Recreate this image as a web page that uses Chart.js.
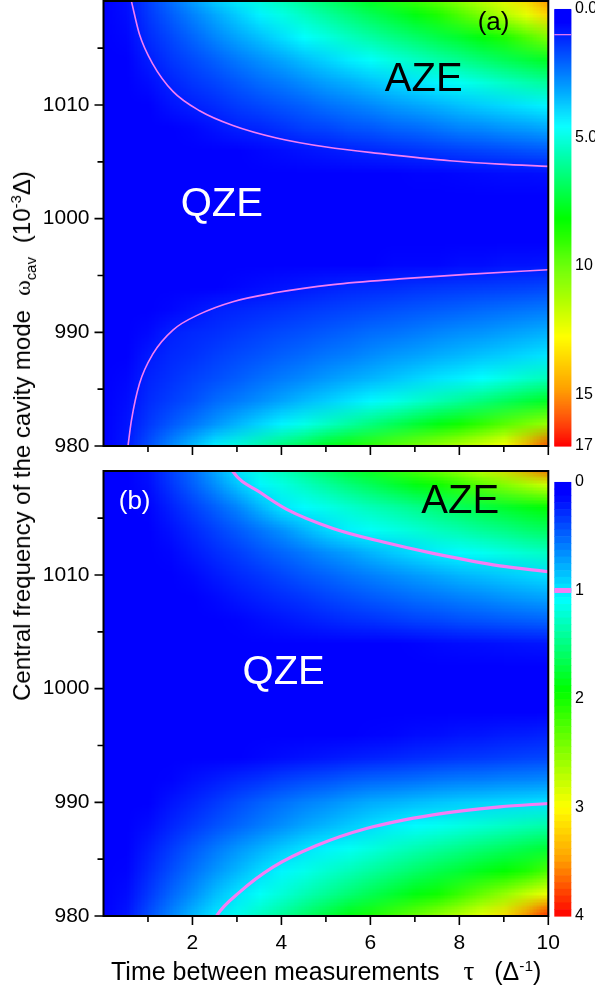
<!DOCTYPE html>
<html lang="en">
<head>
<meta charset="UTF-8">
<title>QZE / AZE maps</title>
<script src="https://cdn.jsdelivr.net/npm/chart.js@4.4.1/dist/chart.umd.min.js"></script>
<style>
  body { margin: 0; background: #fff; font-family: "Liberation Sans", Arial, sans-serif; }
  #wrap { position: relative; width: 595px; height: 988px; overflow: hidden; }
  canvas { position: absolute; left: 0; }
  #chartA { top: 0; }
  #chartB { top: 466px; }
  .title { position: absolute; white-space: nowrap; color: #000; line-height: 24px; }
  .gr { font-family: "Liberation Serif", serif; }
  sup, sub { font-size: 62%; line-height: 0; }
  #xtitle { left: 111px; top: 959px; font-size: 25px; }
  #ytitle { left: 22px; top: 436px; font-size: 24px; transform: translate(-50%, -50%) rotate(-90deg); }
</style>
</head>
<body>
<div id="wrap">
  <canvas id="chartA" width="595" height="466"></canvas>
  <canvas id="chartB" width="595" height="522"></canvas>
  <div class="title" id="xtitle">Time between measurements<span class="gr" style="margin-left:24px;font-size:27px">τ</span><span style="margin-left:20px">(Δ<sup>-1</sup>)</span></div>
  <div class="title" id="ytitle">Central frequency of the cavity mode<span class="gr" style="margin-left:14px">ω</span><sub>cav</sub><span style="margin-left:14px">(10<sup>-3</sup>Δ)</span></div>
</div>
<script>
// grid nodes of the two maps
const tauNodes = [0, 0.5, 1, 1.5, 2, 2.5, 3, 3.5, 4, 4.5, 5, 5.5, 6, 6.5, 7, 7.5, 8, 8.5, 9, 9.5, 10];
const omegaNodes = [980, 982, 984, 986, 988, 990, 992, 994, 996, 998, 1000, 1002, 1004, 1006, 1008, 1010, 1012, 1014, 1016, 1018, 1020];

// panel (a), one row per omega node (bottom to top)
const heatA = [
  [0, 0.9, 1.8, 2.7, 3.55, 4.4, 5.1, 5.8, 6.5, 7.1, 7.8, 8.45, 9.05, 9.7, 10.3, 10.9, 11.5, 12.1, 12.75, 14.45, 16.0],
  [0, 0.8, 1.4, 1.9, 2.4, 2.9, 3.4, 3.9, 4.4, 4.9, 5.4, 5.9, 6.4, 6.9, 7.4, 7.9, 8.45, 9.05, 9.7, 10.3, 10.9],
  [0, 0.7, 1.2, 1.5, 1.8, 2.2, 2.5, 2.8, 3.15, 3.5, 3.8, 4.15, 4.5, 4.85, 5.25, 5.65, 6.05, 6.45, 6.9, 7.3, 7.7],
  [0, 0.6, 1.05, 1.3, 1.55, 1.75, 2.0, 2.25, 2.5, 2.7, 2.95, 3.2, 3.4, 3.65, 3.9, 4.15, 4.35, 4.6, 4.95, 5.3, 5.6],
  [0, 0.45, 0.9, 1.15, 1.3, 1.5, 1.7, 1.85, 2.05, 2.2, 2.4, 2.55, 2.75, 2.95, 3.1, 3.3, 3.45, 3.65, 3.8, 4.0, 4.2],
  [0, 0.3, 0.65, 1.0, 1.15, 1.25, 1.4, 1.55, 1.7, 1.8, 1.95, 2.1, 2.25, 2.35, 2.5, 2.65, 2.8, 2.9, 3.05, 3.2, 3.35],
  [0, 0.2, 0.4, 0.6, 0.8, 1.0, 1.1, 1.2, 1.3, 1.4, 1.5, 1.6, 1.7, 1.8, 1.9, 2.0, 2.1, 2.2, 2.3, 2.4, 2.5],
  [0, 0.1, 0.2, 0.3, 0.4, 0.5, 0.6, 0.7, 0.8, 0.9, 1.0, 1.1, 1.15, 1.2, 1.3, 1.35, 1.4, 1.45, 1.5, 1.55, 1.65],
  [0, 0.05, 0.1, 0.1, 0.2, 0.2, 0.3, 0.3, 0.3, 0.4, 0.4, 0.5, 0.5, 0.6, 0.6, 0.6, 0.7, 0.7, 0.8, 0.8, 0.85],
  [0, 0, 0.05, 0.1, 0.1, 0.1, 0.15, 0.15, 0.2, 0.2, 0.2, 0.25, 0.25, 0.3, 0.3, 0.3, 0.35, 0.35, 0.4, 0.4, 0.45],
  [0, 0, 0, 0.05, 0.05, 0.05, 0.1, 0.1, 0.1, 0.1, 0.15, 0.15, 0.15, 0.15, 0.2, 0.2, 0.2, 0.2, 0.25, 0.25, 0.25],
  [0, 0, 0.05, 0.1, 0.1, 0.1, 0.1, 0.1, 0.2, 0.2, 0.2, 0.2, 0.2, 0.3, 0.3, 0.3, 0.3, 0.3, 0.4, 0.4, 0.4],
  [0, 0.05, 0.1, 0.1, 0.15, 0.2, 0.2, 0.25, 0.3, 0.35, 0.4, 0.4, 0.45, 0.5, 0.55, 0.55, 0.6, 0.65, 0.7, 0.7, 0.75],
  [0, 0.1, 0.2, 0.3, 0.4, 0.4, 0.5, 0.6, 0.7, 0.8, 0.9, 1.0, 1.1, 1.2, 1.3, 1.4, 1.5, 1.6, 1.7, 1.8, 1.9],
  [0, 0.2, 0.3, 0.5, 0.6, 0.8, 1.0, 1.1, 1.3, 1.5, 1.6, 1.8, 1.9, 2.1, 2.2, 2.4, 2.6, 2.7, 2.9, 3.0, 3.2],
  [0, 0.3, 0.5, 0.8, 1.0, 1.2, 1.45, 1.65, 1.85, 2.05, 2.3, 2.5, 2.7, 2.95, 3.15, 3.35, 3.6, 3.8, 4.0, 4.2, 4.45],
  [0, 0.35, 0.7, 1.05, 1.35, 1.6, 1.9, 2.2, 2.45, 2.75, 3.05, 3.3, 3.6, 3.9, 4.15, 4.45, 4.75, 5.05, 5.4, 5.7, 6.0],
  [0, 0.45, 0.95, 1.35, 1.7, 2.05, 2.45, 2.8, 3.15, 3.55, 3.9, 4.3, 4.65, 5.05, 5.4, 5.8, 6.15, 6.55, 6.95, 7.3, 7.7],
  [0, 0.6, 1.2, 1.65, 2.15, 2.65, 3.15, 3.6, 4.1, 4.6, 5.0, 5.45, 5.85, 6.3, 6.7, 7.15, 7.55, 8.0, 8.65, 9.55, 10.5],
  [0, 0.7, 1.4, 2.0, 2.6, 3.2, 3.8, 4.4, 4.95, 5.45, 5.95, 6.45, 6.95, 7.45, 7.95, 8.65, 9.55, 10.45, 11.4, 12.3, 13.7],
  [0, 0.8, 1.6, 2.45, 3.3, 4.1, 4.7, 5.3, 5.9, 6.45, 7.05, 7.6, 8.2, 9.0, 9.75, 10.55, 11.35, 12.1, 12.95, 14.0, 15.5]
];

// panel (b), same nodes
const heatB = [
  [0, 0.2, 0.42, 0.62, 0.82, 0.99, 1.14, 1.29, 1.43, 1.58, 1.73, 1.88, 2.03, 2.21, 2.38, 2.56, 2.73, 2.91, 3.17, 3.54, 3.9],
  [0, 0.16, 0.33, 0.5, 0.66, 0.83, 0.98, 1.1, 1.21, 1.32, 1.43, 1.54, 1.65, 1.76, 1.87, 1.98, 2.16, 2.35, 2.54, 2.74, 2.93],
  [0, 0.13, 0.27, 0.41, 0.55, 0.68, 0.81, 0.94, 1.05, 1.14, 1.23, 1.31, 1.4, 1.49, 1.58, 1.67, 1.75, 1.84, 1.93, 2.04, 2.24],
  [0, 0.11, 0.22, 0.34, 0.46, 0.57, 0.68, 0.78, 0.88, 0.97, 1.04, 1.11, 1.18, 1.26, 1.33, 1.4, 1.47, 1.54, 1.61, 1.68, 1.75],
  [0, 0.08, 0.16, 0.25, 0.34, 0.42, 0.5, 0.58, 0.66, 0.74, 0.81, 0.88, 0.95, 1.02, 1.07, 1.12, 1.17, 1.22, 1.27, 1.32, 1.37],
  [0, 0.06, 0.12, 0.19, 0.26, 0.33, 0.41, 0.48, 0.55, 0.61, 0.66, 0.72, 0.77, 0.8, 0.84, 0.87, 0.9, 0.92, 0.94, 0.96, 0.98],
  [0, 0.04, 0.08, 0.13, 0.18, 0.22, 0.27, 0.31, 0.36, 0.4, 0.43, 0.47, 0.5, 0.52, 0.54, 0.57, 0.59, 0.6, 0.62, 0.63, 0.65],
  [0, 0.02, 0.04, 0.06, 0.08, 0.1, 0.12, 0.14, 0.16, 0.18, 0.2, 0.22, 0.24, 0.26, 0.28, 0.3, 0.32, 0.33, 0.35, 0.37, 0.38],
  [0, 0.01, 0.02, 0.03, 0.04, 0.05, 0.06, 0.07, 0.08, 0.09, 0.1, 0.12, 0.13, 0.14, 0.16, 0.17, 0.19, 0.2, 0.22, 0.23, 0.25],
  [0, 0, 0.01, 0.01, 0.02, 0.02, 0.03, 0.03, 0.04, 0.04, 0.05, 0.05, 0.06, 0.07, 0.07, 0.08, 0.09, 0.1, 0.1, 0.11, 0.12],
  [0, 0, 0, 0, 0, 0.01, 0.01, 0.01, 0.01, 0.02, 0.02, 0.02, 0.02, 0.03, 0.03, 0.03, 0.03, 0.04, 0.04, 0.04, 0.05],
  [0, 0, 0, 0.01, 0.01, 0.02, 0.02, 0.03, 0.03, 0.04, 0.04, 0.05, 0.05, 0.06, 0.06, 0.07, 0.07, 0.08, 0.08, 0.09, 0.1],
  [0, 0, 0.01, 0.02, 0.03, 0.04, 0.05, 0.06, 0.07, 0.08, 0.09, 0.1, 0.11, 0.12, 0.13, 0.15, 0.16, 0.17, 0.18, 0.19, 0.2],
  [0, 0.01, 0.03, 0.05, 0.07, 0.1, 0.13, 0.16, 0.19, 0.22, 0.25, 0.28, 0.3, 0.33, 0.36, 0.38, 0.41, 0.43, 0.45, 0.47, 0.49],
  [0, 0.02, 0.04, 0.07, 0.11, 0.15, 0.2, 0.24, 0.28, 0.32, 0.37, 0.41, 0.45, 0.49, 0.53, 0.56, 0.6, 0.63, 0.67, 0.7, 0.73],
  [0, 0.02, 0.05, 0.1, 0.15, 0.21, 0.27, 0.32, 0.38, 0.44, 0.49, 0.55, 0.6, 0.65, 0.7, 0.75, 0.8, 0.84, 0.88, 0.92, 0.96],
  [0, 0.03, 0.07, 0.14, 0.21, 0.28, 0.35, 0.43, 0.5, 0.57, 0.65, 0.72, 0.8, 0.88, 0.95, 1.02, 1.07, 1.12, 1.18, 1.23, 1.28],
  [0, 0.04, 0.1, 0.18, 0.27, 0.36, 0.46, 0.56, 0.67, 0.8, 0.93, 1.03, 1.1, 1.16, 1.22, 1.29, 1.35, 1.42, 1.48, 1.55, 1.61],
  [0, 0.05, 0.13, 0.24, 0.36, 0.48, 0.62, 0.8, 0.99, 1.07, 1.15, 1.23, 1.31, 1.38, 1.46, 1.54, 1.62, 1.7, 1.78, 1.85, 1.93],
  [0, 0.07, 0.17, 0.32, 0.48, 0.66, 0.86, 1.05, 1.17, 1.28, 1.4, 1.52, 1.63, 1.75, 1.86, 1.98, 2.13, 2.3, 2.47, 2.63, 2.8],
  [0, 0.09, 0.2, 0.38, 0.56, 0.8, 1.06, 1.22, 1.38, 1.53, 1.69, 1.84, 2.0, 2.19, 2.38, 2.58, 2.77, 2.96, 3.26, 3.58, 3.9]
];

// QZE / AZE boundary (level 1), [tau, omega]
const contourA_upper = [[0.6, 1019.6], [0.63, 1019.1], [0.81, 1016.2], [1.11, 1013.6], [1.56, 1011.2], [2.16, 1009.5], [2.91, 1008.2], [3.89, 1007.1], [5.01, 1006.3], [6.29, 1005.7], [7.79, 1005.1], [8.91, 1004.8], [10, 1004.6]];
const contourA_lower = [[0.53, 979.4], [0.55, 980], [0.63, 982.3], [0.81, 985.5], [1.11, 988.1], [1.56, 990.2], [2.16, 991.6], [2.91, 992.7], [3.89, 993.5], [5.16, 994.2], [6.66, 994.7], [8.16, 995.1], [10, 995.5]];
const contourB_upper = [[2.85, 1019.6], [2.91, 1019.1], [3.51, 1017.3], [4.11, 1015.8], [5.16, 1014.1], [6.29, 1012.9], [7.41, 1011.9], [8.91, 1010.8], [10, 1010.3]];
const contourB_lower = [[2.48, 979.5], [2.54, 980], [3.06, 982.1], [3.81, 984.3], [4.79, 986.2], [5.91, 987.7], [7.41, 988.9], [8.91, 989.6], [10, 989.9]];

// colour bar ticks
const cbTicksA = [0, 5, 10, 15, 17];
const cbLabelsA = ['0.0', '5.0', '10', '15', '17'];
const cbTicksB = [0, 1, 2, 3, 4];
const cbLabelsB = ['0', '1', '2', '3', '4'];

const tauTicks = [1, 2, 3, 4, 5, 6, 7, 8, 9, 10];
const omegaTicks = [980, 985, 990, 995, 1000, 1005, 1010, 1015];

Chart.defaults.font.family = '"Liberation Sans", Arial, sans-serif';
Chart.defaults.color = '#000';

// Origin-like rainbow palette
const rainbow = [
  [0, [0, 0, 255]], [0.03, [0, 0, 255]], [0.27, [0, 255, 255]], [0.48, [0, 255, 0]],
  [0.75, [255, 255, 0]], [0.87, [255, 160, 0]], [1, [255, 0, 0]]
];
function colorAt(f) {
  f = Math.max(0, Math.min(1, f));
  for (let i = 1; i < rainbow.length; i++) {
    if (f <= rainbow[i][0]) {
      const [f0, c0] = rainbow[i - 1], [f1, c1] = rainbow[i];
      const t = (f - f0) / (f1 - f0);
      return c0.map((c, k) => Math.round(c + (c1[k] - c) * t));
    }
  }
  return rainbow[rainbow.length - 1][1];
}

const heatmapPlugin = {
  id: 'heatmap',
  beforeDatasetsDraw(chart, args, opts) {
    const { ctx, chartArea: a, scales: { x, y } } = chart;
    const nx = tauNodes.length, ny = omegaNodes.length;
    const off = document.createElement('canvas');
    off.width = nx; off.height = ny;
    const octx = off.getContext('2d');
    const img = octx.createImageData(nx, ny);
    for (let j = 0; j < ny; j++) {
      for (let i = 0; i < nx; i++) {
        const c = colorAt(opts.grid[j][i] / opts.vmax);
        const p = ((ny - 1 - j) * nx + i) * 4;
        img.data[p] = c[0]; img.data[p + 1] = c[1]; img.data[p + 2] = c[2]; img.data[p + 3] = 255;
      }
    }
    octx.putImageData(img, 0, 0);
    const hx = (tauNodes[1] - tauNodes[0]) / 2, hy = (omegaNodes[1] - omegaNodes[0]) / 2;
    const left = x.getPixelForValue(tauNodes[0] - hx), right = x.getPixelForValue(tauNodes[nx - 1] + hx);
    const top = y.getPixelForValue(omegaNodes[ny - 1] + hy), bottom = y.getPixelForValue(omegaNodes[0] - hy);
    ctx.save();
    ctx.beginPath();
    ctx.rect(a.left, a.top, a.width, a.height);
    ctx.clip();
    ctx.imageSmoothingEnabled = true;
    ctx.imageSmoothingQuality = 'low';
    ctx.drawImage(off, left, top, right - left, bottom - top);
    ctx.restore();
  }
};

const colorbarPlugin = {
  id: 'colorbar',
  afterDraw(chart, args, opts) {
    const { ctx, chartArea: a, scales: { cb } } = chart;
    const x0 = a.right + 6, w = 17;
    ctx.save();
    for (let k = 0; k < opts.steps; k++) {
      const v0 = opts.vmax * k / opts.steps, v1 = opts.vmax * (k + 1) / opts.steps;
      const c = colorAt((v0 + v1) / 2 / opts.vmax);
      const ya = cb.getPixelForValue(v0), yb = cb.getPixelForValue(v1);
      ctx.fillStyle = 'rgb(' + c.join(',') + ')';
      ctx.fillRect(x0, ya, w, yb - ya + 0.6);
    }
    const ym = cb.getPixelForValue(opts.level);
    ctx.fillStyle = opts.markColor;
    ctx.fillRect(x0, ym - opts.markWidth / 2, w, opts.markWidth);
    ctx.restore();
  }
};

const framePlugin = {
  id: 'frame',
  afterDatasetsDraw(chart, args, opts) {
    const { ctx, chartArea: a, scales: { x, y } } = chart;
    ctx.save();
    ctx.strokeStyle = '#000';
    ctx.lineWidth = 2;
    ctx.strokeRect(a.left, a.top, a.width, a.height);
    ctx.lineWidth = 1.6;
    ctx.beginPath();
    tauTicks.forEach(t => {
      const px = x.getPixelForValue(t);
      const len = t % 2 === 0 ? 9 : 6;
      ctx.moveTo(px, a.bottom);
      ctx.lineTo(px, a.bottom + len);
    });
    omegaTicks.forEach(w => {
      const py = y.getPixelForValue(w);
      const len = w % 10 === 0 ? 9 : 6;
      ctx.moveTo(a.left, py);
      ctx.lineTo(a.left - len, py);
    });
    ctx.stroke();
    ctx.textAlign = 'center';
    ctx.textBaseline = 'middle';
    opts.labels.forEach(l => {
      ctx.fillStyle = l.color;
      ctx.font = l.size + 'px "Liberation Sans", Arial, sans-serif';
      ctx.fillText(l.text, x.getPixelForValue(l.tau), y.getPixelForValue(l.omega));
    });
    ctx.restore();
  }
};

// fixed axis boxes so both panels line up exactly
function fixBox(size, horizontal) {
  return s => {
    if (horizontal) s.height = size; else s.width = size;
    s.paddingTop = 0; s.paddingBottom = 0; s.paddingLeft = 0; s.paddingRight = 0;
  };
}

function makeChart(id, cfg) {
  return new Chart(document.getElementById(id), {
    type: 'scatter',
    data: {
      datasets: cfg.contours.map(c => ({
        data: c.map(p => ({ x: p[0], y: p[1] })),
        showLine: true,
        pointRadius: 0,
        borderColor: '#f47ef4',
        borderWidth: cfg.lineWidth,
        cubicInterpolationMode: 'monotone',
        fill: false
      }))
    },
    options: {
      responsive: false,
      animation: false,
      events: [],
      layout: { padding: { top: cfg.padTop, left: 0, right: 0, bottom: 0 } },
      plugins: {
        legend: { display: false },
        tooltip: { enabled: false },
        heatmap: { grid: cfg.grid, vmax: cfg.vmax },
        colorbar: { vmax: cfg.vmax, steps: cfg.steps, level: 1, markColor: '#f47ef4', markWidth: cfg.markWidth },
        frame: { labels: cfg.labels }
      },
      scales: {
        x: {
          type: 'linear', min: 0, max: 10,
          grid: { display: false, drawTicks: false },
          border: { display: false },
          ticks: {
            display: cfg.showX, stepSize: 2, padding: 15,
            font: { size: 21 },
            callback: v => (v === 0 ? '' : String(v))
          },
          afterFit: fixBox(cfg.xHeight, true)
        },
        y: {
          type: 'linear', min: 980, max: 1019.15,
          grid: { display: false, drawTicks: false },
          border: { display: false },
          ticks: { stepSize: 10, includeBounds: false, padding: 14, font: { size: 21 }, callback: v => String(v) },
          afterFit: fixBox(103.5, false)
        },
        cb: {
          type: 'linear', position: 'right', reverse: true,
          min: cfg.cbMin, max: cfg.vmax,
          grid: { display: false, drawTicks: false },
          border: { display: false },
          afterBuildTicks: s => { s.ticks = cfg.cbTicks.map(v => ({ value: v })); },
          ticks: { autoSkip: false, padding: 26.7, font: { size: 16 }, callback: (v, i) => cfg.cbLabels[i] },
          afterFit: fixBox(46.7, false)
        }
      }
    },
    plugins: [heatmapPlugin, colorbarPlugin, framePlugin]
  });
}

makeChart('chartA', {
  grid: heatA, vmax: 17, cbMin: -0.31, steps: 440,
  cbTicks: cbTicksA, cbLabels: cbLabelsA,
  contours: [contourA_upper, contourA_lower], lineWidth: 1.6, markWidth: 1.2,
  padTop: 1, xHeight: 20, showX: false,
  labels: [
    { text: '(a)', tau: 8.77, omega: 1017.2, size: 26, color: '#000' },
    { text: 'AZE', tau: 7.2, omega: 1012.2, size: 40, color: '#000' },
    { text: 'QZE', tau: 2.66, omega: 1001.2, size: 40, color: '#fff' }
  ]
});

makeChart('chartB', {
  grid: heatB, vmax: 4, cbMin: -0.101, steps: 64,
  cbTicks: cbTicksB, cbLabels: cbLabelsB,
  contours: [contourB_upper, contourB_lower], lineWidth: 3.2, markWidth: 5,
  padTop: 5, xHeight: 72, showX: true,
  labels: [
    { text: '(b)', tau: 0.7, omega: 1016.4, size: 26, color: '#fff' },
    { text: 'AZE', tau: 8.02, omega: 1016.4, size: 40, color: '#000' },
    { text: 'QZE', tau: 4.05, omega: 1001.4, size: 40, color: '#fff' }
  ]
});
</script>
</body>
</html>
